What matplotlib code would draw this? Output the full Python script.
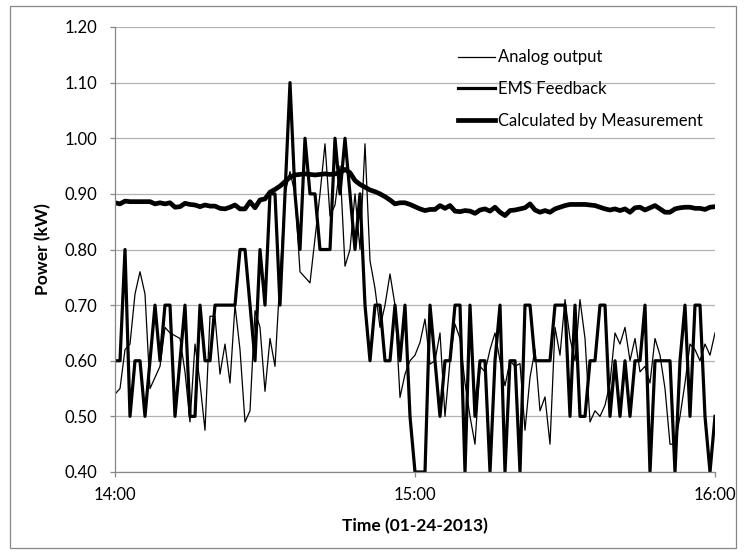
import numpy as np
import matplotlib.pyplot as plt
from matplotlib.patches import Rectangle
from matplotlib.ticker import FixedLocator, FuncFormatter, MultipleLocator

plt.rcParams['font.family'] = ['Lato', 'DejaVu Sans']

# one sample per minute, 14:00 .. 16:00
start_minute = 14 * 60

analog_output = [
    0.54, 0.55, 0.62, 0.63, 0.72, 0.76, 0.72, 0.55, 0.57, 0.59,
    0.66, 0.65, 0.645, 0.64, 0.58, 0.49, 0.63, 0.56, 0.475, 0.68,
    0.68, 0.576, 0.63, 0.56, 0.70, 0.62, 0.49, 0.51, 0.69, 0.66,
    0.545, 0.64, 0.59, 0.75, 0.90, 0.94, 0.90, 0.76, 0.75, 0.74,
    0.82, 0.90, 0.99, 0.86, 0.88, 0.95, 0.77, 0.80, 0.90, 0.80,
    0.99, 0.78, 0.73, 0.66, 0.70, 0.756, 0.70, 0.534, 0.576, 0.60,
    0.61, 0.633, 0.675, 0.594, 0.60, 0.65, 0.50, 0.60, 0.666, 0.64,
    0.56, 0.50, 0.45, 0.59, 0.58, 0.62, 0.65, 0.60, 0.555, 0.60,
    0.59, 0.595, 0.475, 0.57, 0.62, 0.51, 0.535, 0.45, 0.66, 0.61,
    0.71, 0.64, 0.60, 0.71, 0.64, 0.49, 0.51, 0.50, 0.52, 0.56,
    0.65, 0.63, 0.66, 0.60, 0.64, 0.58, 0.59, 0.56, 0.64, 0.61,
    0.55, 0.45, 0.45, 0.50, 0.56, 0.63, 0.62, 0.60, 0.63, 0.61,
    0.65,
]

ems_feedback = [
    0.6, 0.6, 0.8, 0.5, 0.6, 0.6, 0.5, 0.6, 0.7, 0.6,
    0.7, 0.7, 0.5, 0.6, 0.7, 0.5, 0.5, 0.7, 0.6, 0.6,
    0.7, 0.7, 0.7, 0.7, 0.7, 0.8, 0.8, 0.7, 0.6, 0.8,
    0.7, 0.9, 0.9, 0.7, 0.9, 1.1, 0.9, 0.8, 1.0, 0.9,
    0.9, 0.8, 0.8, 0.8, 1.0, 0.9, 1.0, 0.9, 0.8, 0.9,
    0.7, 0.6, 0.7, 0.7, 0.6, 0.6, 0.7, 0.6, 0.7, 0.5,
    0.4, 0.4, 0.4, 0.7, 0.6, 0.5, 0.6, 0.6, 0.7, 0.7,
    0.4, 0.7, 0.5, 0.6, 0.6, 0.4, 0.6, 0.7, 0.4, 0.6,
    0.6, 0.4, 0.7, 0.7, 0.6, 0.6, 0.6, 0.6, 0.7, 0.7,
    0.7, 0.5, 0.7, 0.5, 0.5, 0.6, 0.6, 0.7, 0.7, 0.5,
    0.6, 0.5, 0.6, 0.5, 0.6, 0.6, 0.7, 0.4, 0.6, 0.6,
    0.6, 0.6, 0.4, 0.6, 0.7, 0.5, 0.7, 0.7, 0.5, 0.4,
    0.5,
]

calculated = [
    0.884, 0.882, 0.887, 0.886, 0.886, 0.886, 0.886, 0.886, 0.882, 0.884,
    0.882, 0.884, 0.876, 0.877, 0.883, 0.881, 0.880, 0.877, 0.880, 0.878,
    0.878, 0.874, 0.873, 0.876, 0.880, 0.873, 0.873, 0.886, 0.875, 0.889,
    0.891, 0.903, 0.908, 0.914, 0.922, 0.930, 0.934, 0.935, 0.936, 0.935,
    0.934, 0.935, 0.936, 0.935, 0.936, 0.938, 0.944, 0.938, 0.924, 0.917,
    0.912, 0.907, 0.904, 0.900, 0.895, 0.889, 0.882, 0.884, 0.884, 0.881,
    0.877, 0.873, 0.870, 0.872, 0.872, 0.879, 0.874, 0.879, 0.869, 0.868,
    0.870, 0.869, 0.865, 0.871, 0.873, 0.869, 0.876, 0.867, 0.861, 0.870,
    0.871, 0.873, 0.875, 0.882, 0.871, 0.867, 0.870, 0.867, 0.873, 0.876,
    0.879, 0.881, 0.881, 0.881, 0.881, 0.880, 0.879, 0.876, 0.873, 0.871,
    0.873, 0.870, 0.873, 0.867, 0.875, 0.876, 0.871, 0.875, 0.879, 0.873,
    0.867, 0.867, 0.873, 0.875, 0.876, 0.876, 0.874, 0.874, 0.872, 0.876,
    0.877,
]

minutes = start_minute + np.arange(len(analog_output))

fig = plt.figure(figsize=(7.44, 5.54), dpi=100)
ax = fig.add_axes([115 / 744, 1 - 472 / 554, 600 / 744, 445 / 554])

ax.plot(minutes, analog_output, color='black', lw=0.9, label='Analog output')
ax.plot(minutes, ems_feedback, color='black', lw=2.3, label='EMS Feedback')
ax.plot(minutes, calculated, color='black', lw=3.4, label='Calculated by Measurement')

ax.set_xlim(14 * 60, 16 * 60)
ax.set_ylim(0.4, 1.2)
ax.yaxis.set_major_locator(MultipleLocator(0.1))
ax.yaxis.set_major_formatter(FuncFormatter(lambda v, _: f"{v:.2f}"))
ax.xaxis.set_major_locator(FixedLocator([14 * 60, 15 * 60, 16 * 60]))
ax.xaxis.set_major_formatter(FuncFormatter(lambda m, _: f"{int(m) // 60}:{int(m) % 60:02d}"))

ax.grid(axis='y', color='#b3b3b3', lw=0.9)
ax.set_axisbelow(True)
for side in ('top', 'right'):
    ax.spines[side].set_visible(False)
for side in ('left', 'bottom'):
    ax.spines[side].set_color('#878787')
    ax.spines[side].set_linewidth(0.9)
ax.tick_params(axis='both', colors='#878787', labelcolor='black', labelsize=12,
               length=3.6, width=0.9, direction='out')
ax.tick_params(axis='x', pad=7)
ax.tick_params(axis='y', pad=9)

ax.set_xlabel('Time (01-24-2013)', fontsize=12.5, fontweight='bold', labelpad=11)
ax.set_ylabel('Power (kW)', fontsize=12.5, fontweight='bold', labelpad=10)

ax.legend(loc='upper left', bbox_to_anchor=(450 / 744, 1 - 41 / 554),
          bbox_transform=fig.transFigure, frameon=False, fontsize=12,
          handlelength=2.2, handletextpad=0.2, labelspacing=0.95, borderpad=0)

# outer chart frame
fig.patches.append(Rectangle((10 / 744, 6 / 554), 726 / 744, 542 / 554,
                             transform=fig.transFigure, fill=False,
                             edgecolor='#878787', lw=0.9))

fig.savefig('out.png', dpi=100)
